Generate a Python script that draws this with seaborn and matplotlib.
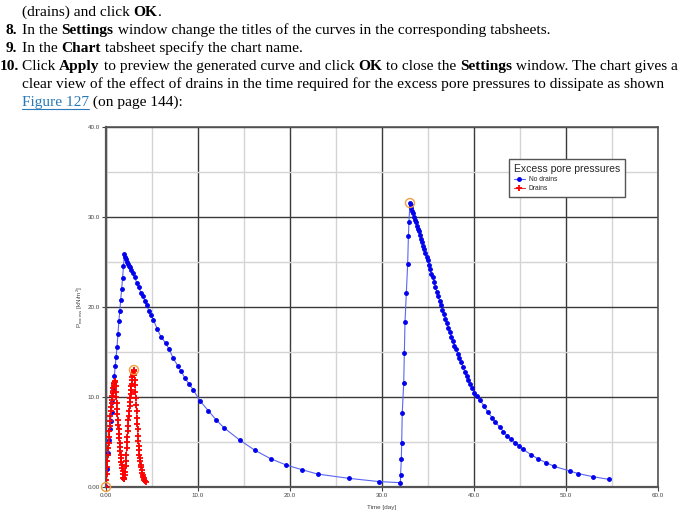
import matplotlib
matplotlib.use("Agg")
import matplotlib.pyplot as plt
from matplotlib.lines import Line2D
import pandas as pd
import seaborn as sns

# ---- data ----
# no drains: first loading, dissipation, second loading, dissipation
nd_time = [0.0, 0.1, 0.2, 0.3, 0.4, 0.5, 0.6, 0.7, 0.8, 0.9, 1.0, 1.1, 1.2, 1.3, 1.4,
           1.5, 1.6, 1.7, 1.8, 1.9, 2.0,
           2.1, 2.2, 2.3, 2.4, 2.5, 2.6, 2.75, 2.9, 3.1, 3.33, 3.55, 3.8, 4.0, 4.23,
           4.45, 4.64, 4.9, 5.14, 5.55, 5.97, 6.48, 6.87, 7.31, 7.78, 8.15, 8.58, 9.0,
           9.48, 10.2, 11.1, 11.94, 12.8, 14.55, 16.2, 17.9, 19.6, 21.3, 23.0, 26.4,
           29.7, 32.0,
           32.02, 32.1, 32.14, 32.2, 32.36, 32.43, 32.5, 32.65, 32.79, 32.87, 32.93, 33.04,
           33.12, 33.2, 33.3, 33.4, 33.5, 33.6, 33.7, 33.8, 33.9, 34.0, 34.12, 34.24,
           34.36, 34.48, 34.6, 34.72, 34.84, 34.96, 35.1, 35.24, 35.38, 35.52, 35.66,
           35.8, 35.95, 36.1, 36.25, 36.4, 36.56, 36.72, 36.88, 37.04, 37.2, 37.37,
           37.54, 37.71, 37.88, 38.06, 38.24, 38.42, 38.6, 38.8, 39.0, 39.2, 39.4, 39.6,
           39.8, 40.0, 40.3, 40.6, 41.1, 41.5, 42.0, 42.3, 42.8, 43.2, 43.6, 44.05, 44.5,
           44.9, 45.3, 46.2, 47.0, 47.85, 48.7, 50.4, 51.3, 52.95, 54.65]
nd_pexcess = [0.0, 2.0, 3.8, 5.2, 6.4, 7.3, 8.3, 9.5, 11.0, 12.3, 13.4, 14.4, 15.6, 17.0,
              18.4, 19.6, 20.8, 22.0, 23.2, 24.6, 25.9,
              25.6, 25.3, 25.0, 24.8, 24.6, 24.4, 24.1, 23.8, 23.3, 22.7, 22.2, 21.6, 21.2,
              20.7, 20.2, 19.6, 19.1, 18.6, 17.6, 16.7, 16.0, 15.3, 14.3, 13.5, 12.9, 12.1,
              11.5, 10.8, 9.6, 8.5, 7.5, 6.6, 5.2, 4.07, 3.14, 2.44, 1.92, 1.44, 0.96, 0.6,
              0.48,
              1.33, 3.07, 4.84, 8.2, 11.55, 14.9, 18.3, 21.55, 24.8, 27.9, 29.5, 31.55,
              31.3, 31.0, 30.7, 30.4, 30.05, 29.7, 29.4, 29.05, 28.7, 28.4, 28.0, 27.6,
              27.2, 26.8, 26.4, 26.0, 25.6, 25.2, 24.7, 24.2, 23.7, 23.3, 22.8, 22.2, 21.7,
              21.2, 20.7, 20.2, 19.7, 19.2, 18.7, 18.2, 17.7, 17.2, 16.7, 16.2, 15.7, 15.3,
              14.8, 14.3, 13.9, 13.3, 12.8, 12.3, 11.9, 11.4, 11.0, 10.5, 10.1, 9.7, 9.0,
              8.3, 7.7, 7.2, 6.67, 6.14, 5.7, 5.3, 4.9, 4.6, 4.2, 3.6, 3.1, 2.7, 2.3, 1.78,
              1.5, 1.14, 0.85]

# drains: two short loading / dissipation cycles
dr_time = [0.0, 0.04, 0.08, 0.12, 0.16, 0.2, 0.24, 0.28, 0.32, 0.36, 0.4, 0.44, 0.48,
           0.52, 0.56, 0.6, 0.64, 0.68, 0.72, 0.76, 0.8, 0.84, 0.88, 0.92, 0.96, 1.0,
           1.04, 1.08, 1.12, 1.16, 1.2, 1.24, 1.28, 1.32, 1.36, 1.4, 1.44, 1.48, 1.52,
           1.56, 1.6, 1.64, 1.68, 1.72, 1.76, 1.8, 1.84, 1.88, 1.92,
           1.96, 2.0, 2.04, 2.08, 2.12, 2.16, 2.2, 2.24, 2.28, 2.32, 2.36, 2.4, 2.44, 2.48,
           2.52, 2.56, 2.6, 2.64, 2.68, 2.72, 2.76, 2.8, 2.84, 2.88, 2.92, 2.96, 3.0, 3.04,
           3.08, 3.12, 3.16, 3.2, 3.24, 3.28, 3.32, 3.36, 3.4, 3.44, 3.48, 3.52, 3.56, 3.6,
           3.64, 3.68, 3.72, 3.76, 3.8, 3.86, 3.92, 3.98, 4.04, 4.1, 4.16, 4.22, 4.3]
dr_pexcess = [0.0, 0.8, 1.5, 2.2, 2.9, 3.6, 4.3, 4.9, 5.6, 6.2, 6.8, 7.3, 7.9, 8.4, 8.9,
              9.3, 9.7, 10.1, 10.4, 10.7, 11.0, 11.2, 11.4, 11.6, 11.7, 11.75,
              11.2, 10.6, 10.0, 9.3, 8.7, 8.1, 7.5, 6.9, 6.4, 5.9, 5.4, 4.9, 4.4, 4.0, 3.6,
              3.2, 2.8, 2.5, 2.1, 1.8, 1.4, 1.0, 0.9,
              0.9, 1.0, 1.3, 1.7, 2.3, 2.9, 3.6, 4.3, 5.0, 5.6, 6.2, 6.8, 7.4, 7.9, 8.5, 9.0,
              9.5, 9.9, 10.3, 10.8, 11.2, 11.5, 11.9, 12.2, 12.5, 12.7, 12.9, 13.0,
              12.4, 11.9, 11.3, 10.6, 9.9, 9.1, 8.4, 7.7, 7.0, 6.4, 5.7, 5.1, 4.6, 4.1, 3.6,
              3.2, 2.9, 2.5, 2.2, 1.9, 1.6, 1.35, 1.1, 0.95, 0.8, 0.7, 0.6]

# highlighted points (orange rings)
mark_time = [0.0, 3.04, 33.04]
mark_pexcess = [0.0, 13.0, 31.55]

x_ticks = [0, 10, 20, 30, 40, 50, 60]
x_labels = ["0.00", "10.0", "20.0", "30.0", "40.0", "50.0", "60.0"]
y_ticks = [0, 10, 20, 30, 40]
y_labels = ["0.00", "10.0", "20.0", "30.0", "40.0"]

sns.set_style("white")
plt.rcParams["font.family"] = ["Liberation Sans", "DejaVu Sans"]

fig = plt.figure(figsize=(6.9, 5.19), dpi=100)
fig.patch.set_facecolor("white")

# ---- page text above the figure ----
FS = 11.1
serif = ["Liberation Serif", "DejaVu Serif"]
fig.canvas.draw()
renderer = fig.canvas.get_renderer()

def put_line(x, y_img, parts):
    y = 519 - y_img
    for txt, weight, color in parts:
        t = fig.text(x, y, txt, transform=None, fontsize=FS, fontweight=weight,
                     color=color, family=serif, va="baseline", ha="left")
        ext = t.get_window_extent(renderer)
        if color != "black":
            fig.add_artist(Line2D([ext.x0, ext.x1], [y - 2.5, y - 2.5], transform=None,
                                  color=color, lw=0.8))
        x = ext.x1

def put_num(x_right, y_img, num):
    fig.text(x_right, 519 - y_img, num, transform=None, fontsize=FS, fontweight="bold",
             color="black", family=serif, va="baseline", ha="right")

put_line(22, 16, [("(drains) and click ", "normal", "black"), ("OK", "bold", "black"),
                  (".", "normal", "black")])
put_num(17, 34, "8.")
put_line(22, 34, [("In the ", "normal", "black"), ("Settings", "bold", "black"),
                  (" window change the titles of the curves in the corresponding tabsheets.",
                   "normal", "black")])
put_num(17, 52, "9.")
put_line(22, 52, [("In the ", "normal", "black"), ("Chart", "bold", "black"),
                  (" tabsheet specify the chart name.", "normal", "black")])
put_num(19, 70, "10.")
put_line(22, 70, [("Click ", "normal", "black"), ("Apply", "bold", "black"),
                  (" to preview the generated curve and click ", "normal", "black"),
                  ("OK", "bold", "black"), (" to close the ", "normal", "black"),
                  ("Settings", "bold", "black"),
                  (" window. The chart gives a", "normal", "black")])
put_line(22, 88, [("clear view of the effect of drains in the time required for the excess "
                   "pore pressures to dissipate as shown", "normal", "black")])
put_line(22, 106, [("Figure 127", "normal", "#2a7ab8"), (" (on page 144):", "normal", "black")])

# ---- chart ----
ax = fig.add_axes([106 / 690, 1 - 487 / 519, 552 / 690, 360 / 519])

no_drains = pd.DataFrame({"time": nd_time, "p": nd_pexcess})
drains = pd.DataFrame({"time": dr_time, "p": dr_pexcess})

sns.lineplot(data=no_drains, x="time", y="p", ax=ax, sort=False, estimator=None,
             color="#5a66f2", lw=0.8, marker="o", markersize=2.7,
             markerfacecolor="#0000ee", markeredgecolor="#0000ee", label="No drains",
             zorder=4)
sns.lineplot(data=drains, x="time", y="p", ax=ax, sort=False, estimator=None,
             color="#ee3030", lw=0.8, marker="+", markersize=4.0, markeredgewidth=1.3,
             markerfacecolor="#ff0000", markeredgecolor="#ff0000", label="Drains",
             zorder=5)
ax.scatter(mark_time, mark_pexcess, s=42, facecolors="none", edgecolors="#f0a040",
           linewidths=1.0, zorder=6, clip_on=False)

ax.set_xlim(0, 60)
ax.set_ylim(0, 40)
ax.set_xticks(x_ticks, x_labels)
ax.set_yticks(y_ticks, y_labels)
ax.set_xticks(range(5, 60, 10), minor=True)
ax.set_yticks(range(5, 40, 10), minor=True)
ax.grid(True, which="major", color="#3a3a3a", lw=1.0, zorder=1)
ax.grid(True, which="minor", color="#d4d4d4", lw=1.0, zorder=0)
ax.set_axisbelow(True)
ax.tick_params(axis="both", which="major", labelsize=4.5, labelcolor="#444444",
               length=3, width=0.8, color="#444444", pad=1.5, direction="out",
               left=True, bottom=True)
ax.tick_params(axis="both", which="minor", length=0)
for side, sp in ax.spines.items():
    sp.set_color("#555555")
    sp.set_linewidth(1.6 if side in ("left", "bottom") else 1.2)

ax.set_xlabel("Time [day]", fontsize=4.5, color="#444444", labelpad=5)
ax.set_ylabel(r"P$_{\mathregular{excess}}$ [kN/m$^{\mathregular{2}}$]", fontsize=4.5,
              color="#444444", labelpad=1.5)

leg = ax.legend(title="Excess pore pressures", loc="upper right",
                bbox_to_anchor=(0.940, 0.911), fontsize=4.8, title_fontsize=7.5,
                frameon=True, fancybox=False, edgecolor="#555555", framealpha=1,
                alignment="left", handlelength=1.6, handletextpad=0.6,
                labelspacing=0.35, borderpad=0.7, borderaxespad=0)
leg.get_frame().set_linewidth(1.0)

fig.savefig("out.png", dpi=100)
